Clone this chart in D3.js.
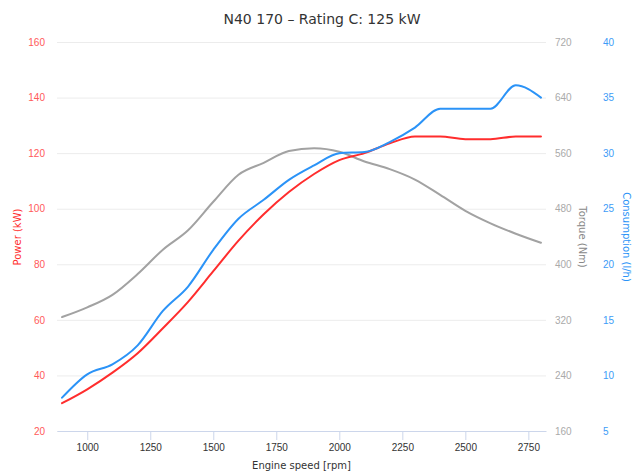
<!DOCTYPE html>
<html>
<head>
<meta charset="utf-8">
<script src="https://cdnjs.cloudflare.com/ajax/libs/d3/7.8.5/d3.min.js"></script>
<style>
  body { margin: 0; background: #fff; }
  svg { display: block; font-family: "DejaVu Sans", "Lucida Grande", sans-serif; }
</style>
</head>
<body>
<svg id="chart" width="641" height="475"></svg>
<script>
//=================================
//   Data
//=================================
var rpm = [900, 1000, 1100, 1200, 1300, 1400, 1500, 1600, 1700, 1800,
           1900, 2000, 2100, 2200, 2300, 2400, 2500, 2600, 2700, 2800];
var power = [30, 35, 41, 48, 57, 66.5, 77.5, 88.5, 98, 106,
             112.5, 117.5, 120, 123.5, 126, 126, 125, 125, 126, 126];//kW
var torque = [324, 338, 356, 386, 421, 449, 490, 529, 546, 563,
              567, 562, 548, 537, 522, 500, 477, 459, 444, 431];//Nm
var consumption = [8, 10.1, 11, 12.7, 15.8, 18, 21.3, 24.1, 25.8, 27.6,
                   28.9, 30, 30.1, 31, 32.3, 34, 34, 34, 36.1, 35];//l/h

var rpmTicks = [1000, 1250, 1500, 1750, 2000, 2250, 2500, 2750];
var powerTicks = [20, 40, 60, 80, 100, 120, 140, 160];
var torqueTicks = [160, 240, 320, 400, 480, 560, 640, 720];
var consTicks = [5, 10, 15, 20, 25, 30, 35, 40];

//Colours
var red = "#ff2d2d", blue = "#2b93f7", grey = "#a2a2a2";

//=================================
//   Canvas and scales
//=================================
//(plotTop, not "top": window.top can't be overwritten)
var plotLeft = 57, plotRight = 546, plotTop = 42, plotBottom = 431;
var svg = d3.select("#chart");
var plain = d3.format("d");

var x = d3.scaleLinear().domain([880, 2820]).range([plotLeft, plotRight]);
var yPower = d3.scaleLinear().domain([20, 160]).range([plotBottom, plotTop]);
var yTorque = d3.scaleLinear().domain([160, 720]).range([plotBottom, plotTop]);
var yCons = d3.scaleLinear().domain([5, 40]).range([plotBottom, plotTop]);

//Title
svg.append("text")
  .attr("x", 322).attr("y", 24)
  .attr("text-anchor", "middle")
  .attr("font-size", 14)
  .attr("fill", "#333")
  .text("N40 170 \u2013 Rating C: 125 kW");

//Gridlines (one set, shared by all three y axes)
var grid = svg.append("g")
  .attr("transform", "translate(" + plotLeft + ",0)")
  .call(d3.axisLeft(yPower).tickValues(powerTicks).tickSize(-(plotRight - plotLeft)).tickFormat(""));
grid.select(".domain").remove();
grid.selectAll("line").attr("stroke", "#ececec").attr("stroke-width", 1);

//Left axis - power
var gPower = svg.append("g")
  .attr("transform", "translate(" + (plotLeft - 12) + ",0)")
  .call(d3.axisLeft(yPower).tickValues(powerTicks).tickSize(0).tickPadding(0).tickFormat(plain));
gPower.select(".domain").remove();
gPower.selectAll("text").attr("fill", "#ff5a5a").attr("font-size", 10).attr("font-family", "inherit");

//Right axis - torque
var gTorque = svg.append("g")
  .attr("transform", "translate(" + (plotRight + 9) + ",0)")
  .call(d3.axisRight(yTorque).tickValues(torqueTicks).tickSize(0).tickPadding(0).tickFormat(plain));
gTorque.select(".domain").remove();
gTorque.selectAll("text").attr("fill", "#aaaaaa").attr("font-size", 10).attr("font-family", "inherit");

//Right axis - consumption
var gCons = svg.append("g")
  .attr("transform", "translate(" + (plotRight + 57) + ",0)")
  .call(d3.axisRight(yCons).tickValues(consTicks).tickSize(0).tickPadding(0).tickFormat(plain));
gCons.select(".domain").remove();
gCons.selectAll("text").attr("fill", "#3d9cf7").attr("font-size", 10).attr("font-family", "inherit");

//Bottom axis - engine speed
var gX = svg.append("g")
  .attr("transform", "translate(0," + plotBottom + ")")
  .call(d3.axisBottom(x).tickValues(rpmTicks).tickSizeInner(9).tickSizeOuter(0).tickPadding(4).tickFormat(plain));
gX.select(".domain").attr("stroke", "#ccd6eb");
gX.selectAll("line").attr("stroke", "#ccd6eb");
gX.selectAll("text").attr("fill", "#333").attr("font-size", 10).attr("font-family", "inherit");

//Axis titles
svg.append("text")
  .attr("transform", "translate(21,237) rotate(-90)")
  .attr("text-anchor", "middle").attr("font-size", 10).attr("fill", red)
  .text("Power (kW)");
svg.append("text")
  .attr("transform", "translate(579,237) rotate(90)")
  .attr("text-anchor", "middle").attr("font-size", 10).attr("fill", "#888")
  .text("Torque (Nm)");
svg.append("text")
  .attr("transform", "translate(623,237) rotate(90)")
  .attr("text-anchor", "middle").attr("font-size", 10).attr("fill", blue)
  .text("Consumption (l/h)");
svg.append("text")
  .attr("x", (plotLeft + plotRight) / 2).attr("y", 469)
  .attr("text-anchor", "middle").attr("font-size", 10).attr("fill", "#333")
  .text("Engine speed [rpm]");

//=================================
//   The three curves
//=================================
function drawLine(values, yScale, colour) {
  var line = d3.line()
    .x(function(d, i) { return x(rpm[i]); })
    .y(function(d) { return yScale(d); })
    .curve(d3.curveMonotoneX);
  svg.append("path")
    .datum(values)
    .attr("d", line)
    .attr("fill", "none")
    .attr("stroke", colour)
    .attr("stroke-width", 2)
    .attr("stroke-linejoin", "round")
    .attr("stroke-linecap", "round");
}

drawLine(torque, yTorque, grey);
drawLine(power, yPower, red);
drawLine(consumption, yCons, blue);
</script>
</body>
</html>
